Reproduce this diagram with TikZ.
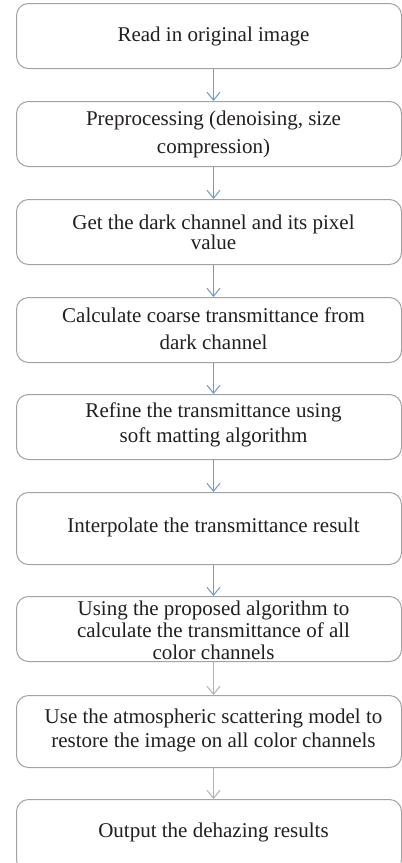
\documentclass[tikz,border=0pt]{standalone}
\usepackage{fontspec}
\setmainfont{Liberation Serif}
\usetikzlibrary{arrows.meta,calc}
\definecolor{boxline}{HTML}{A3A3A3}
\definecolor{arrblue}{HTML}{6C9BD2}
\definecolor{arrgray}{HTML}{B4B4B4}
\definecolor{txt}{HTML}{231F20}
\begin{document}
\begin{tikzpicture}[x=1pt,y=-1pt,
  stepbox/.style={draw=boxline,line width=1pt,rounded corners=12pt,minimum width=385pt,inner sep=0pt,anchor=north west},
  steptext/.style={text=txt,align=center,font=\fontsize{21}{#1}\selectfont,inner sep=0pt},
  steptext/.default=22,
  blu/.style={draw=arrblue,line width=1pt,-{Straight Barb[length=8pt,width=13pt,line width=1pt]}},
  gry/.style={draw=arrgray,line width=1pt,-{Straight Barb[length=8pt,width=13pt,line width=1pt]}}]
\useasboundingbox[fill=white] (0,0) rectangle (402,863);
\node[stepbox,minimum height=65pt] (b1) at (16,3) {};
\node[stepbox,minimum height=65pt] (b2) at (16,101) {};
\node[stepbox,minimum height=65pt] (b3) at (16,199) {};
\node[stepbox,minimum height=65pt] (b4) at (16,297) {};
\node[stepbox,minimum height=65pt] (b5) at (16,394) {};
\node[stepbox,minimum height=72pt] (b6) at (16,492) {};
\node[stepbox,minimum height=65pt] (b7) at (16,596) {};
\node[stepbox,minimum height=72pt] (b8) at (16,695) {};
\node[stepbox,minimum height=72pt] (b9) at (16,799) {};
\node[steptext] (t1) at ($(b1.center)+(4.5,0)$) {Read in original image};
\node[steptext=28] (t2) at ($(b2.center)+(4.5,0.5)$) {Preprocessing (denoising, size\\compression)};
\node[steptext=18] (t3) at ($(b3.center)+(4.5,0)$) {Get the dark channel and its pixel\\value};
\node[steptext=27] (t4) at ($(b4.center)+(4.5,-1)$) {Calculate coarse transmittance from\\dark channel};
\node[steptext=25] (t5) at ($(b5.center)+(4.5,-2)$) {Refine the transmittance using\\soft matting algorithm};
\node[steptext] (t6) at ($(b6.center)+(4.5,-1)$) {Interpolate the transmittance result};
\node[steptext] (t7) at ($(b7.center)+(4.5,1.5)$) {Using the proposed algorithm to\\calculate the transmittance of all\\color channels};
\node[steptext=24] (t8) at ($(b8.center)+(4.5,-1)$) {Use the atmospheric scattering model to\\restore the image on all color channels};
\node[steptext] (t9) at ($(b9.center)+(4.5,-3.5)$) {Output the dehazing results};
\draw[blu] (t1 |- b1.south) -- (t1 |- b2.north);
\draw[blu] (t1 |- b2.south) -- (t1 |- b3.north);
\draw[blu] (t1 |- b3.south) -- (t1 |- b4.north);
\draw[blu] (t1 |- b4.south) -- (t1 |- b5.north);
\draw[blu] (t1 |- b5.south) -- (t1 |- b6.north);
\draw[blu] (t1 |- b6.south) -- (t1 |- b7.north);
\draw[gry] (t1 |- b7.south) -- (t1 |- b8.north);
\draw[gry] (t1 |- b8.south) -- (t1 |- b9.north);
\end{tikzpicture}
\end{document}
